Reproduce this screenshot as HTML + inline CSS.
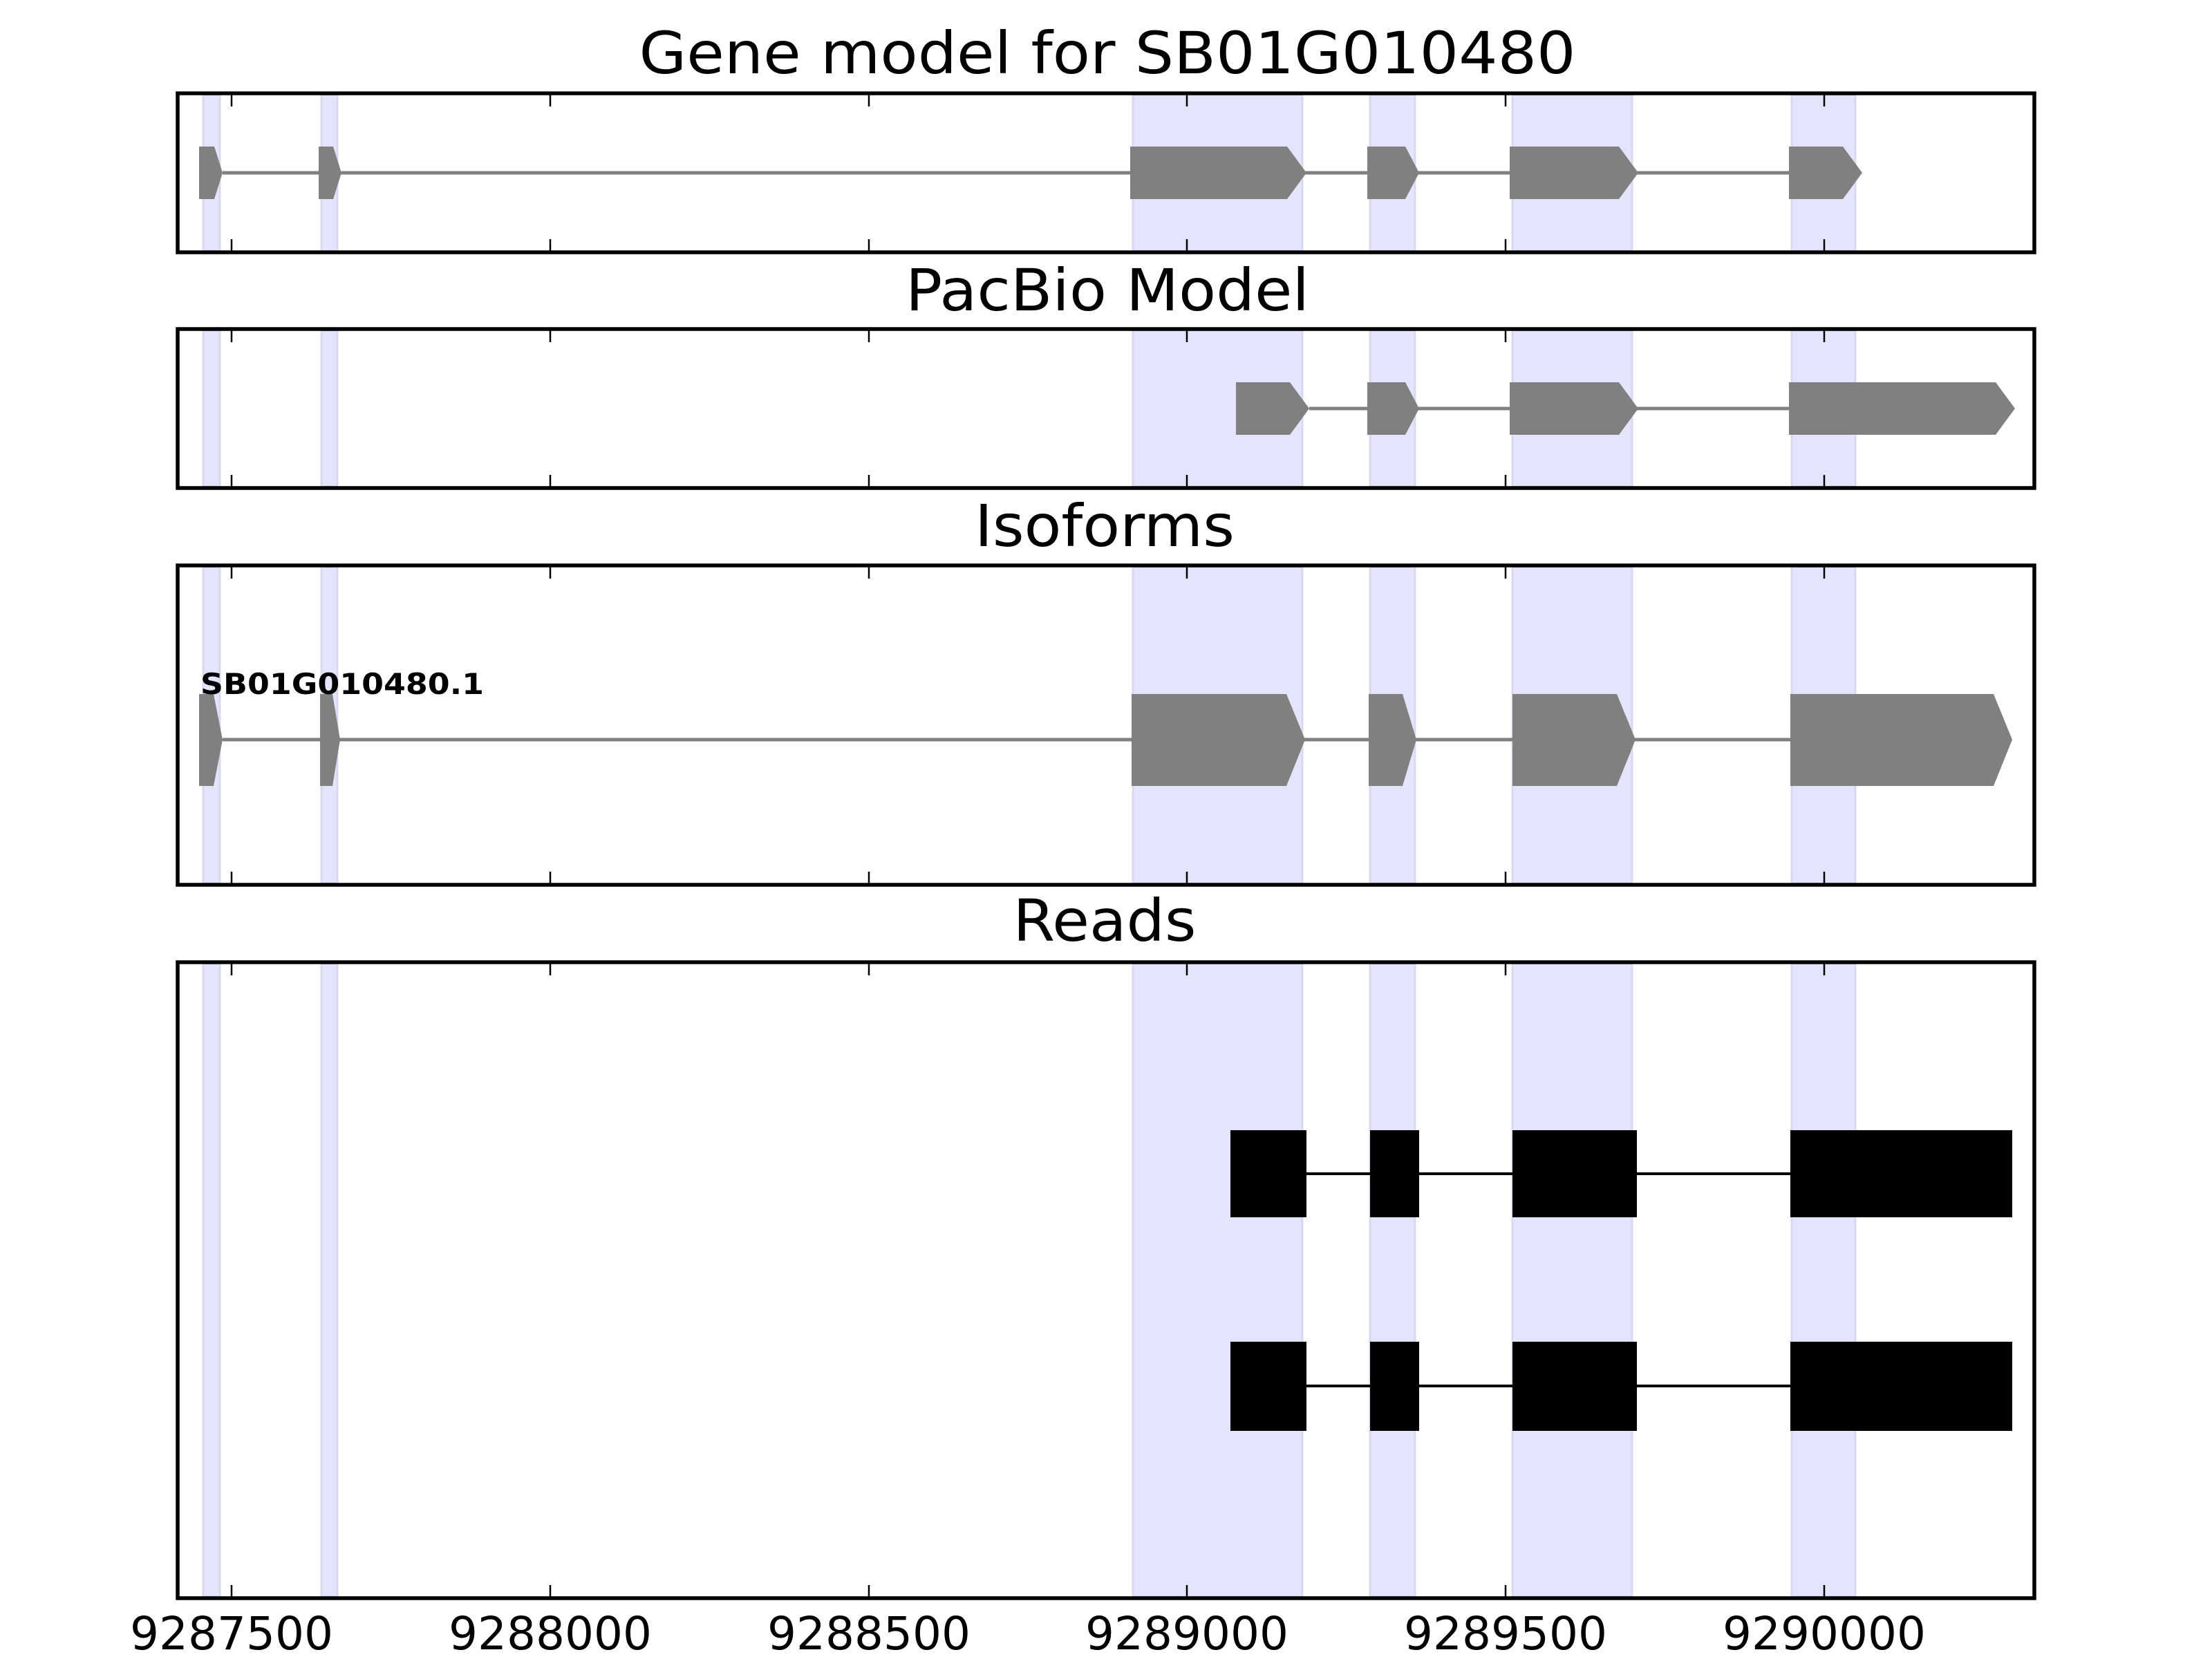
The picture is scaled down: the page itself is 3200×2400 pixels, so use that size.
<!DOCTYPE html>
<html><head><meta charset="utf-8"><style>html,body{margin:0;padding:0;background:#fff}svg{display:block}</style></head>
<body>
<svg width="3200" height="2400" viewBox="0 0 3200 2400" xmlns="http://www.w3.org/2000/svg" font-family="'DejaVu Sans','Liberation Sans',sans-serif">
<g fill="#e4e4fc" stroke="#d8d8ee" stroke-width="3">
<rect x="294" y="137" width="24" height="226"/><rect x="465" y="137" width="23" height="226"/><rect x="1639" y="137" width="245" height="226"/><rect x="1982" y="137" width="65" height="226"/><rect x="2188" y="137" width="173" height="226"/><rect x="2592" y="137" width="92" height="226"/>
<rect x="294" y="478" width="24" height="226"/><rect x="465" y="478" width="23" height="226"/><rect x="1639" y="478" width="245" height="226"/><rect x="1982" y="478" width="65" height="226"/><rect x="2188" y="478" width="173" height="226"/><rect x="2592" y="478" width="92" height="226"/>
<rect x="294" y="820" width="24" height="458"/><rect x="465" y="820" width="23" height="458"/><rect x="1639" y="820" width="245" height="458"/><rect x="1982" y="820" width="65" height="458"/><rect x="2188" y="820" width="173" height="458"/><rect x="2592" y="820" width="92" height="458"/>
<rect x="294" y="1394" width="24" height="916"/><rect x="465" y="1394" width="23" height="916"/><rect x="1639" y="1394" width="245" height="916"/><rect x="1982" y="1394" width="65" height="916"/><rect x="2188" y="1394" width="173" height="916"/><rect x="2592" y="1394" width="92" height="916"/>
</g>

<!-- Panel 1 -->
<line x1="322" y1="250" x2="2588" y2="250" stroke="#808080" stroke-width="5"/>
<g fill="#808080">
<polygon points="288,212 310,212 322,250 310,288 288,288"/>
<polygon points="461,212 482,212 494,250 482,288 461,288"/>
<polygon points="1635,212 1862,212 1890,250 1862,288 1635,288"/>
<polygon points="1978,212 2033,212 2053,250 2033,288 1978,288"/>
<polygon points="2184,212 2342,212 2370,250 2342,288 2184,288"/>
<polygon points="2588,212 2666,212 2694,250 2666,288 2588,288"/>
</g>
<!-- Panel 2 -->
<line x1="1894" y1="591" x2="2588" y2="591" stroke="#808080" stroke-width="5"/>
<g fill="#808080">
<polygon points="1788,553 1866,553 1894,591 1866,629 1788,629"/>
<polygon points="1978,553 2033,553 2053,591 2033,629 1978,629"/>
<polygon points="2184,553 2342,553 2370,591 2342,629 2184,629"/>
<polygon points="2588,553 2887,553 2915,591 2887,629 2588,629"/>
</g>
<!-- Panel 3 -->
<line x1="322" y1="1070" x2="2590" y2="1070" stroke="#808080" stroke-width="5"/>
<g fill="#808080">
<polygon points="288,1004 309,1004 322,1070 309,1137 288,1137"/>
<polygon points="463,1004 481,1004 492,1070 481,1137 463,1137"/>
<polygon points="1637,1004 1861,1004 1888,1070 1861,1137 1637,1137"/>
<polygon points="1980,1004 2029,1004 2049,1070 2029,1137 1980,1137"/>
<polygon points="2188,1004 2339,1004 2366,1070 2339,1137 2188,1137"/>
<polygon points="2590,1004 2884,1004 2911,1070 2884,1137 2590,1137"/>
</g>
<text x="290" y="1004" font-size="42" font-weight="bold" textLength="410" lengthAdjust="spacingAndGlyphs">SB01G010480.1</text>
<!-- Panel 4 reads -->
<g stroke="#000" stroke-width="4"><line x1="1780" y1="1698" x2="2911" y2="1698"/><line x1="1780" y1="2005" x2="2911" y2="2005"/></g>
<g fill="#000">
<rect x="1780" y="1635" width="110" height="126"/><rect x="1982" y="1635" width="71" height="126"/><rect x="2188" y="1635" width="180" height="126"/><rect x="2590" y="1635" width="321" height="126"/>
<rect x="1780" y="1941" width="110" height="129"/><rect x="1982" y="1941" width="71" height="129"/><rect x="2188" y="1941" width="180" height="129"/><rect x="2590" y="1941" width="321" height="129"/>
</g>

<!-- Frames -->
<g fill="none" stroke="#000" stroke-width="5.5">
<rect x="257" y="135" width="2686" height="230"/>
<rect x="257" y="476" width="2686" height="230"/>
<rect x="257" y="818" width="2686" height="462"/>
<rect x="257" y="1392" width="2686" height="920"/>
</g>
<!-- Ticks -->
<g stroke="#000" stroke-width="2.5">
<path d="M335,135v19M796,135v19M1257,135v19M1717,135v19M2178,135v19M2639,135v19 M335,365v-19M796,365v-19M1257,365v-19M1717,365v-19M2178,365v-19M2639,365v-19"/>
<path d="M335,476v19M796,476v19M1257,476v19M1717,476v19M2178,476v19M2639,476v19 M335,706v-19M796,706v-19M1257,706v-19M1717,706v-19M2178,706v-19M2639,706v-19"/>
<path d="M335,818v19M796,818v19M1257,818v19M1717,818v19M2178,818v19M2639,818v19 M335,1280v-19M796,1280v-19M1257,1280v-19M1717,1280v-19M2178,1280v-19M2639,1280v-19"/>
<path d="M335,1392v19M796,1392v19M1257,1392v19M1717,1392v19M2178,1392v19M2639,1392v19 M335,2312v-19M796,2312v-19M1257,2312v-19M1717,2312v-19M2178,2312v-19M2639,2312v-19"/>
</g>
<!-- Titles -->
<g font-size="84" text-anchor="middle" fill="#000">
<text x="1602" y="106" textLength="1355" lengthAdjust="spacingAndGlyphs">Gene model for SB01G010480</text>
<text x="1602" y="449" textLength="584" lengthAdjust="spacingAndGlyphs">PacBio Model</text>
<text x="1598" y="790" textLength="376" lengthAdjust="spacingAndGlyphs">Isoforms</text>
<text x="1598" y="1361" textLength="265" lengthAdjust="spacingAndGlyphs">Reads</text>
</g>
<!-- Tick labels -->
<g font-size="66" text-anchor="middle" fill="#000">
<text x="335" y="2386" textLength="294" lengthAdjust="spacingAndGlyphs">9287500</text>
<text x="796" y="2386" textLength="294" lengthAdjust="spacingAndGlyphs">9288000</text>
<text x="1257" y="2386" textLength="294" lengthAdjust="spacingAndGlyphs">9288500</text>
<text x="1717" y="2386" textLength="294" lengthAdjust="spacingAndGlyphs">9289000</text>
<text x="2178" y="2386" textLength="294" lengthAdjust="spacingAndGlyphs">9289500</text>
<text x="2639" y="2386" textLength="294" lengthAdjust="spacingAndGlyphs">9290000</text>
</g>
</svg>
</body></html>
